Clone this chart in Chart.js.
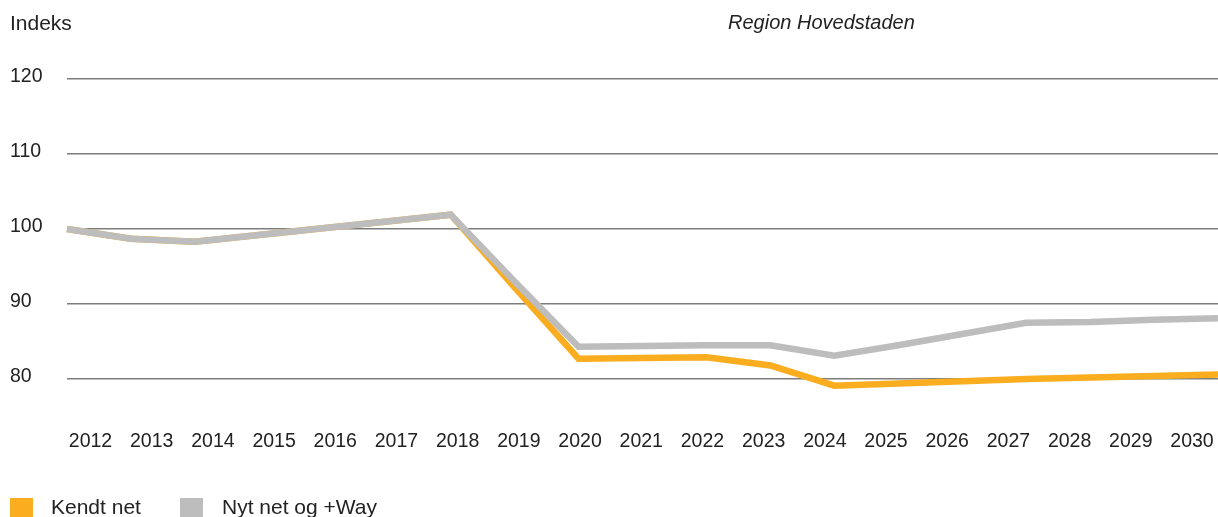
<!DOCTYPE html>
<html lang="da">
<head>
<meta charset="utf-8">
<title>Indeks – Region Hovedstaden</title>
<script src="https://cdn.jsdelivr.net/npm/chart.js@4.4.1/dist/chart.umd.min.js"></script>
<style>
  html, body { margin: 0; padding: 0; background: #fff; overflow: hidden; }
  body { font-family: "Liberation Sans", Arial, sans-serif; color: #222; }
  .wrap { position: relative; width: 1218px; height: 517px; }
  .txt { position: absolute; line-height: 1; white-space: nowrap; }
  .yTitle { left: 10px; top: 12px; font-size: 21px; }
  .chartTitle { left: 728px; top: 12px; font-size: 20px; font-style: italic; }
  .legend { position: absolute; left: 0; top: 496px; font-size: 21px; }
  .swatch { position: absolute; top: 2px; width: 23px; height: 23px; }
</style>
</head>
<body>
<div class="wrap">
  <canvas id="indexChart"></canvas>
  <div class="txt yTitle">Indeks</div>
  <div class="txt chartTitle">Region Hovedstaden</div>
  <div id="legend" class="legend"></div>
</div>

<script>
// ---------- data ----------
const YEARS = [2012, 2013, 2014, 2015, 2016, 2017, 2018, 2019, 2020, 2021,
               2022, 2023, 2024, 2025, 2026, 2027, 2028, 2029, 2030];

const KENDT_NET = [100, 98.7, 98.3, 99.2, 100.1, 101.0, 101.9, 92.2, 82.7, 82.8,
                   82.9, 81.8, 79.1, 79.4, 79.7, 80.0, 80.2, 80.4, 80.6];

const NYT_NET_WAY = [100, 98.7, 98.3, 99.2, 100.1, 101.0, 101.9, 93.0, 84.3, 84.4,
                     84.5, 84.5, 83.1, 84.5, 86.0, 87.5, 87.6, 87.9, 88.1];

const Y_TICKS = [80, 90, 100, 110, 120];

const SERIES_NAMES = ["Kendt net", "Nyt net og +Way"];
const COLORS = { kendt: "#FAAD1E", nyt: "#BDBDBD" };

const TEXT = "#222";
const FONT = "'Liberation Sans', Arial, sans-serif";

// ---------- legend (html) ----------
function renderLegend() {
  const box = document.getElementById("legend");
  const items = [
    { name: SERIES_NAMES[0], color: COLORS.kendt, sw: 10, tx: 51 },
    { name: SERIES_NAMES[1], color: COLORS.nyt, sw: 180, tx: 222 },
  ];
  box.innerHTML = items.map((it) => `
    <span class="swatch" style="left:${it.sw}px;background:${it.color}"></span>
    <span class="txt" style="left:${it.tx}px;top:0">${it.name}</span>
  `).join("");
}

// ---------- chart ----------
function renderChart() {
  const ctx = document.getElementById("indexChart");

  new Chart(ctx, {
    type: "line",
    data: {
      labels: YEARS,
      datasets: [
        {
          label: SERIES_NAMES[0],
          data: KENDT_NET,
          borderColor: COLORS.kendt,
          backgroundColor: COLORS.kendt,
          borderWidth: 6.5,
          pointRadius: 0,
          tension: 0,
          order: 1,
        },
        {
          label: SERIES_NAMES[1],
          data: NYT_NET_WAY,
          borderColor: COLORS.nyt,
          backgroundColor: COLORS.nyt,
          borderWidth: 6.5,
          pointRadius: 0,
          tension: 0,
          order: 0, // grey sits on top
        },
      ],
    },
    options: {
      responsive: true,
      maintainAspectRatio: false,
      animation: false,
      layout: { padding: { top: 79, left: 10, right: 0, bottom: 49.6 } },
      plugins: {
        legend: { display: false },
        tooltip: { enabled: false },
      },
      scales: {
        // data axis: points run edge to edge
        x: {
          type: "category",
          display: false,
          offset: false,
        },
        // label axis: year labels sit slightly inside the line ends
        xl: {
          type: "linear",
          position: "bottom",
          min: 2011.616,
          max: 2030.425,
          grid: { display: false, drawTicks: false },
          border: { display: false },
          afterBuildTicks: (scale) => {
            scale.ticks = YEARS.map((v) => ({ value: v }));
          },
          ticks: {
            padding: 0, // keeps the plot flush with the right edge
            color: TEXT,
            font: { family: FONT, size: 19.5, lineHeight: "51px" },
            maxRotation: 0,
            autoSkip: false,
            callback: (v) => String(v),
          },
        },
        y: {
          min: 75,
          max: 120,
          afterBuildTicks: (scale) => {
            scale.ticks = Y_TICKS.map((v) => ({ value: v }));
          },
          afterFit: (scale) => { scale.width = 57; },
          grid: { color: "#7d7d7d", lineWidth: 1.5, drawTicks: false },
          border: { display: false },
          ticks: {
            crossAlign: "far",
            padding: 0,
            labelOffset: -2,
            color: TEXT,
            font: { family: FONT, size: 19.5 },
          },
        },
      },
    },
  });
}

renderLegend();
renderChart();
</script>
</body>
</html>
